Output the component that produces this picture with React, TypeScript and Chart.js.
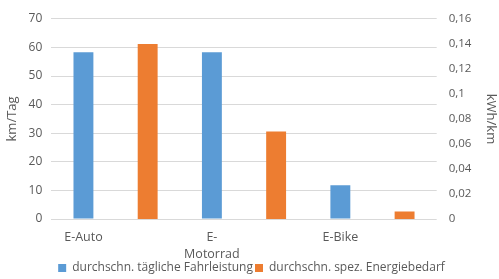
import React, { useEffect, useRef } from "react";
import { Chart, registerables } from "chart.js";

Chart.register(...registerables);

const categories: (string | string[])[] = ["E-Auto", "", ["E-", "Motorrad"], "", "E-Bike", ""];
const fahrleistung: (number | null)[] = [58.3, null, 58.3, null, 11.8, null];
const energiebedarf: (number | null)[] = [null, 0.14, null, 0.07, null, 0.006];
const seriesNames = ["durchschn. tägliche Fahrleistung", "durchschn. spez. Energiebedarf"];

const FONT = "'Open Sans', sans-serif";
const TEXT = "#595959";

export default function App() {
  const ref = useRef<HTMLCanvasElement>(null);
  useEffect(() => {
    document.body.style.margin = "0";
    const chart = new Chart(ref.current!, {
      type: "bar",
      data: {
        labels: categories,
        datasets: [
          {
            label: seriesNames[0],
            data: fahrleistung,
            backgroundColor: "#5B9BD5",
            yAxisID: "y",
            grouped: false,
            categoryPercentage: 1,
            barPercentage: 0.31,
          },
          {
            label: seriesNames[1],
            data: energiebedarf,
            backgroundColor: "#ED7D31",
            yAxisID: "y1",
            grouped: false,
            categoryPercentage: 1,
            barPercentage: 0.31,
          },
        ],
      },
      options: {
        animation: false,
        responsive: false,
        layout: { padding: { top: 1, left: 4, right: 0, bottom: -5 } },
        plugins: {
          tooltip: { enabled: false },
          legend: {
            position: "bottom",
            labels: {
              color: TEXT,
              font: { family: FONT, size: 12 },
              boxWidth: 8,
              boxHeight: 8,
              padding: 2,
            },
          },
        },
        scales: {
          x: {
            grid: { display: false, drawTicks: false },
            border: { display: false },
            afterFit: (scale: any) => {
              scale.height = 41;
            },
            ticks: {
              color: TEXT,
              font: { family: FONT, size: 12.5, lineHeight: 1.35 },
              maxRotation: 0,
              autoSkip: false,
              padding: 10,
            },
          },
          y: {
            position: "left",
            min: 0,
            max: 70,
            ticks: { stepSize: 10, color: TEXT, font: { family: FONT, size: 12 }, padding: 9 },
            grid: { color: "#D9D9D9", drawTicks: false },
            border: { display: false },
            title: { display: true, text: "km/Tag", color: TEXT, font: { family: FONT, size: 13 }, padding: 0 },
          },
          y1: {
            position: "right",
            min: 0,
            max: 0.16,
            ticks: {
              stepSize: 0.02,
              color: TEXT,
              font: { family: FONT, size: 11.5 },
              padding: 12,
              callback: (v: any) => String(Math.round(Number(v) * 100) / 100).replace(".", ","),
            },
            grid: { display: false, drawTicks: false },
            border: { display: false },
            title: { display: true, text: "kWh/km", color: TEXT, font: { family: FONT, size: 13 }, padding: 0 },
          },
        },
      },
    });
    return () => chart.destroy();
  }, []);
  return (
    <div style={{ position: "absolute", left: 0, top: 0, width: 499, height: 279, background: "#fff" }}>
      <canvas ref={ref} width={499} height={279} />
    </div>
  );
}
